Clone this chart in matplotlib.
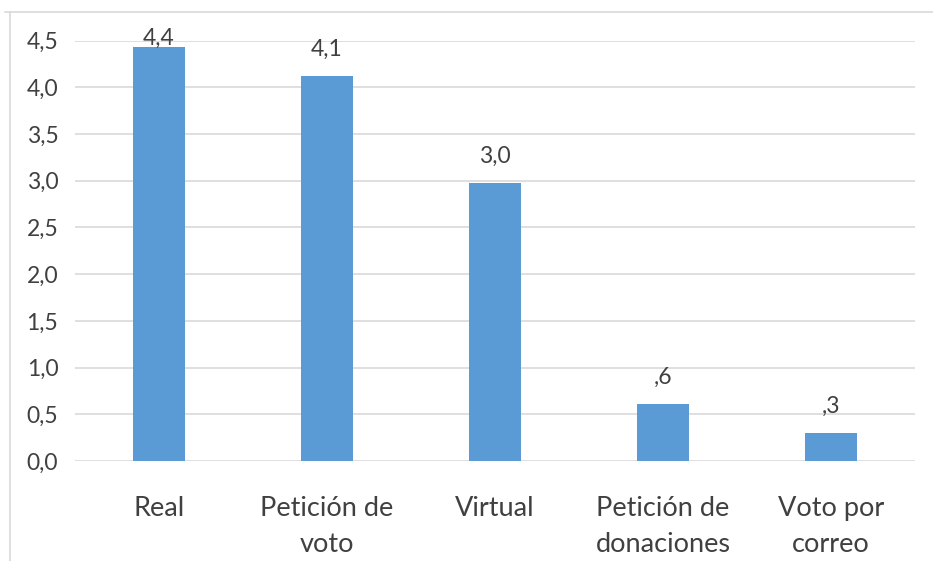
import matplotlib.pyplot as plt
from matplotlib.lines import Line2D

# Datos del gráfico
categorias = ["Real", "Petición de\nvoto", "Virtual", "Petición de\ndonaciones", "Voto por\ncorreo"]
medias = [4.43, 4.12, 2.98, 0.61, 0.30]
yticks = [0.0, 0.5, 1.0, 1.5, 2.0, 2.5, 3.0, 3.5, 4.0, 4.5]

azul = "#5b9bd5"
gris_texto = "#404040"
gris_linea = "#d9d9d9"

plt.rcParams['font.family'] = ['Lato', 'DejaVu Sans']


def etiqueta(v):
    # formato tipo SPSS: coma decimal y sin cero inicial
    s = f"{v:.1f}".replace(".", ",")
    if s.startswith("0,"):
        s = s[1:]
    return s


fig = plt.figure(figsize=(9.33, 5.61), dpi=100)
ax = fig.add_axes([0.0804, 0.1783, 0.9003, 0.7492])

x = range(len(categorias))
ax.bar(x, medias, width=0.315, color=azul, zorder=3)

ax.set_ylim(0, 4.5)
ax.set_xlim(-0.5, len(categorias) - 0.5)
ax.set_yticks(yticks)
ax.set_yticklabels([f"{t:.1f}".replace(".", ",") for t in yticks])
ax.grid(axis="y", color=gris_linea, linewidth=1.2, zorder=0)
ax.set_xticks(list(x))
ax.set_xticklabels(categorias, fontsize=19.5, color=gris_texto, linespacing=1.55)
ax.tick_params(axis="x", length=0, pad=25)
ax.tick_params(axis="y", length=0, pad=12, labelsize=16.5, labelcolor=gris_texto)
for s in ax.spines.values():
    s.set_visible(False)

# etiquetas de valor encima de cada barra
px_por_unidad = ax.get_window_extent().height / 4.5
for i, v in enumerate(medias):
    y = min(v + 20 / px_por_unidad, 4.46)
    ax.text(i, y, etiqueta(v), ha="center", va="baseline", fontsize=16.5,
            color=gris_texto, clip_on=False, zorder=4)

# borde del área del gráfico
fig.add_artist(Line2D([9.5 / 933, 9.5 / 933], [0, 1 - 12.3 / 561],
                      transform=fig.transFigure, color=gris_linea, linewidth=1.2))
fig.add_artist(Line2D([5 / 933, 1], [1 - 12.3 / 561, 1 - 12.3 / 561],
                      transform=fig.transFigure, color=gris_linea, linewidth=1.2))

fig.savefig("out.png", dpi=100, facecolor="white")
